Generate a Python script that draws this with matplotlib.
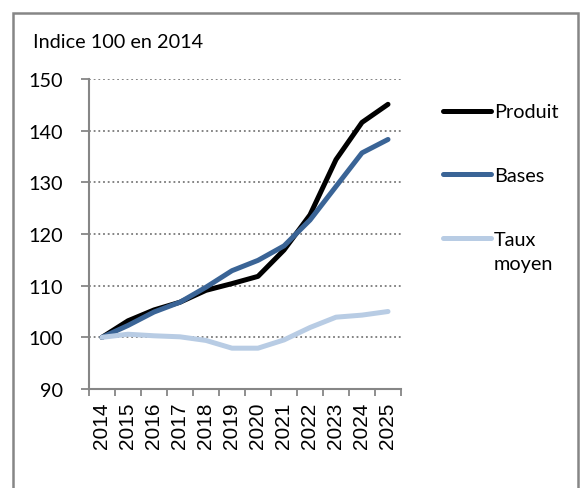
import matplotlib.pyplot as plt
from matplotlib.patches import Rectangle

years = [str(y) for y in range(2014, 2026)]
produit = [100, 103.2, 105.3, 106.8, 109.1, 110.4, 111.8, 116.9, 123.7, 134.4, 141.6, 145.1]
bases = [100, 102.3, 104.9, 106.8, 109.7, 112.9, 114.9, 117.7, 122.7, 129.2, 135.7, 138.3]
taux = [100, 100.6, 100.3, 100.1, 99.4, 97.9, 97.9, 99.5, 101.9, 103.9, 104.3, 105.0]
yticks = [90, 100, 110, 120, 130, 140, 150]

grey = '#868686'
W, H = 584, 489
fs = 14.3

fig = plt.figure(figsize=(W / 100, H / 100), dpi=100)
ax = fig.add_axes([89 / W, 1 - 390 / H, (401 - 89) / W, (390 - 80) / H])

# outer chart frame (open at the bottom)
fig.patches.append(Rectangle((13 / W, -0.05), (578 - 13) / W, 1.05 - 14 / H,
                             transform=fig.transFigure, fill=False,
                             edgecolor=grey, linewidth=1.8))

x = list(range(len(years)))
ax.plot(x, produit, color='black', lw=3.6, label='Produit', solid_capstyle='round')
ax.plot(x, bases, color='#3a6496', lw=3.6, label='Bases', solid_capstyle='round')
ax.plot(x, taux, color='#b8cce4', lw=3.6, label='Taux', solid_capstyle='round')

ax.set_xlim(-0.5, len(years) - 0.5)
ax.set_ylim(90, 150)
ax.set_yticks(yticks)
ax.set_yticklabels([str(v) for v in yticks], fontfamily='Lato', fontsize=fs)
ax.set_xticks(x)
ax.set_xticklabels(years, rotation=90, fontfamily='Liberation Sans', fontsize=15)
ax.set_xticks([i - 0.5 for i in range(len(years) + 1)], minor=True)
ax.tick_params(axis='x', which='major', length=0, pad=9)
ax.tick_params(axis='x', which='minor', length=5, width=1.3, color=grey, direction='out')
ax.tick_params(axis='y', length=6, width=1.3, color=grey, pad=13)

for v in yticks[1:]:
    ax.axhline(v, color='#7a7a7a', lw=1.3, ls=(0, (1.0, 1.6)), zorder=0)

for s in ('top', 'right'):
    ax.spines[s].set_visible(False)
for s in ('left', 'bottom'):
    ax.spines[s].set_color(grey)
    ax.spines[s].set_linewidth(1.5)

fig.text(33 / W, 1 - 47.5 / H, 'Indice 100 en 2014', fontfamily='Lato',
         fontsize=fs, va='baseline', ha='left')

leg = ax.legend(loc='upper left', bbox_to_anchor=(443 / W, 1 - 104.5 / H),
                bbox_transform=fig.transFigure, frameon=False, borderpad=0,
                borderaxespad=0, handlelength=2.4, handletextpad=0.15,
                labelspacing=2.35, prop={'family': 'Lato', 'size': fs})
fig.canvas.draw()
ax.annotate('moyen', xy=(0, 0), xycoords=leg.get_texts()[2], xytext=(0, -5.5),
            textcoords='offset points', va='top', ha='left',
            fontfamily='Lato', fontsize=fs)

fig.savefig('out.png', dpi=100)
